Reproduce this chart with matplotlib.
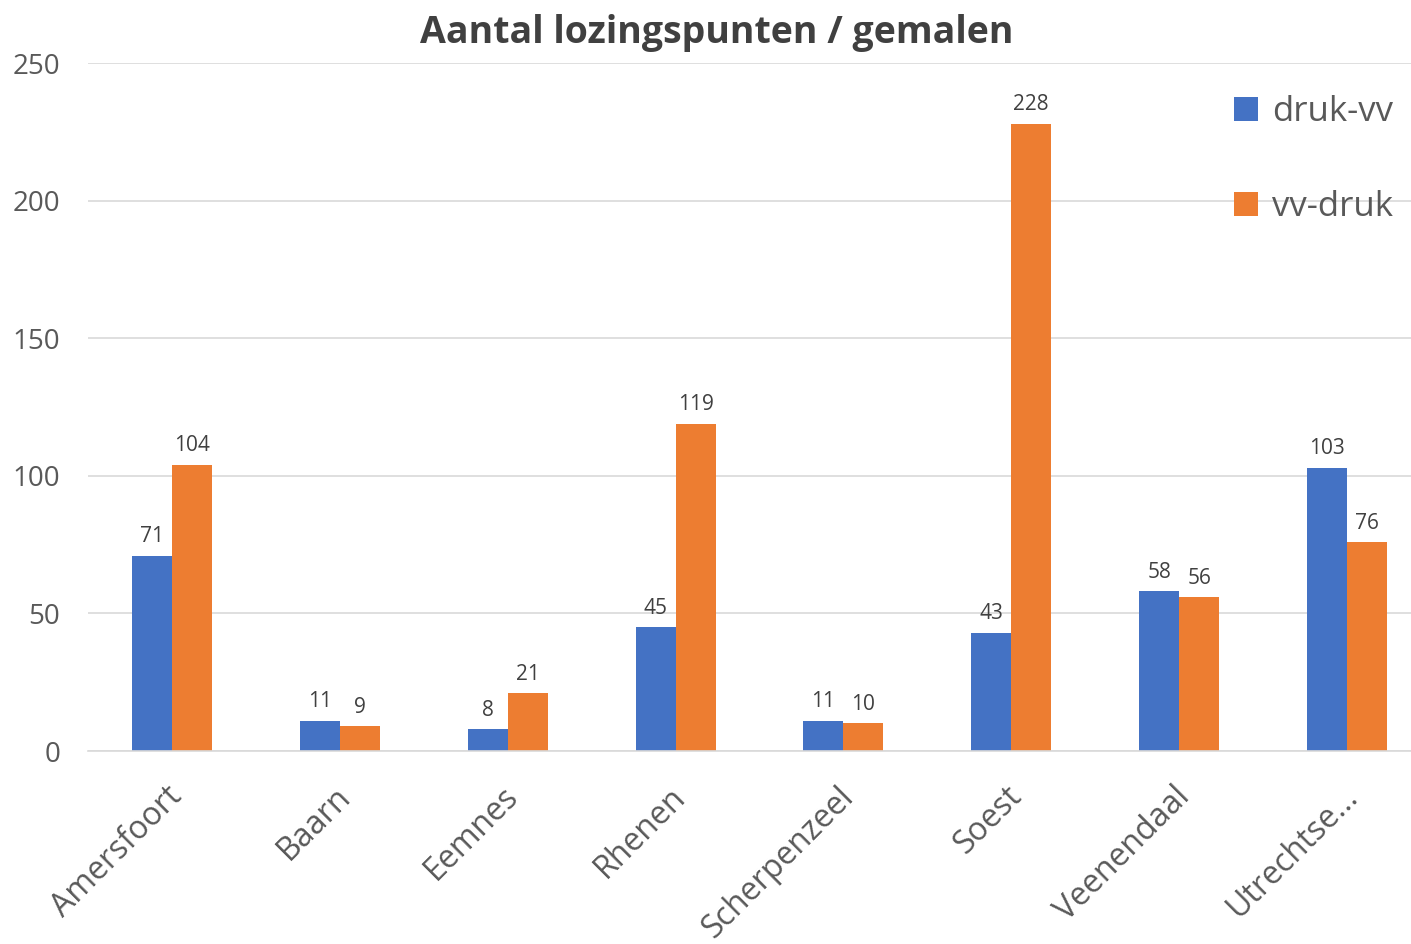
import matplotlib
matplotlib.use("Agg")
import matplotlib.pyplot as plt
import matplotlib.transforms as mtransforms
import numpy as np

categories = ["Amersfoort", "Baarn", "Eemnes", "Rhenen", "Scherpenzeel", "Soest", "Veenendaal", "Utrechtse..."]
druk_vv = [71, 11, 8, 45, 11, 43, 58, 103]
vv_druk = [104, 9, 21, 119, 10, 228, 56, 76]
yticks = [0, 50, 100, 150, 200, 250]

plt.rcParams['font.family'] = ['Open Sans', 'DejaVu Sans']
blue = "#4472C4"
orange = "#ED7D31"
txt = "#595959"

fig = plt.figure(figsize=(14.11, 9.44), dpi=100)
ax = fig.add_axes([88/1411, 193/944, (1431-88)/1411, (751-63)/944])

x = np.arange(len(categories))
w = 0.238
b1 = ax.bar(x - w/2, druk_vv, w, color=blue, label="druk-vv")
b2 = ax.bar(x + w/2, vv_druk, w, color=orange, label="vv-druk")

for bars, vals in ((b1, druk_vv), (b2, vv_druk)):
    for r, v in zip(bars, vals):
        ax.annotate(str(v), (r.get_x() + r.get_width()/2, v), xytext=(0, 6),
                    textcoords="offset points", ha="center", va="bottom",
                    fontsize=15, color="#404040")

ax.set_xlim(-0.5, len(categories) - 0.5)
ax.set_ylim(0, 250)
ax.set_yticks(yticks)
ax.set_yticklabels([str(t) for t in yticks], fontsize=20, color=txt)
ax.yaxis.grid(True, color="#D9D9D9", linewidth=1.2)
ax.set_axisbelow(True)
for s in ["top", "right", "left"]:
    ax.spines[s].set_visible(False)
ax.spines["bottom"].set_color("#D9D9D9")
ax.spines["bottom"].set_linewidth(1.2)
ax.tick_params(axis="y", length=0, pad=20)
ax.tick_params(axis="x", length=0, pad=21)
ax.set_xticks(x)
ax.set_xticklabels(categories, rotation=45, ha="right", rotation_mode="anchor",
                   fontsize=23, color=txt)
offset = mtransforms.ScaledTranslation(-6/100, 0, fig.dpi_scale_trans)
for lab in ax.get_xticklabels():
    lab.set_transform(lab.get_transform() + offset)

fig.text(717/1411, 1 - 33/944, "Aantal lozingspunten / gemalen", ha="center", va="center",
         fontsize=27, fontweight="bold", color="#404040")

leg = ax.legend(loc="upper right", bbox_to_anchor=(1417/1411, 1 - 71/944),
                bbox_transform=fig.transFigure,
                frameon=False, fontsize=25, labelspacing=1.75, handlelength=0.7, handleheight=0.7,
                handletextpad=0.4, labelcolor=txt, borderpad=0.2)
plt.savefig("out.png", dpi=100)
